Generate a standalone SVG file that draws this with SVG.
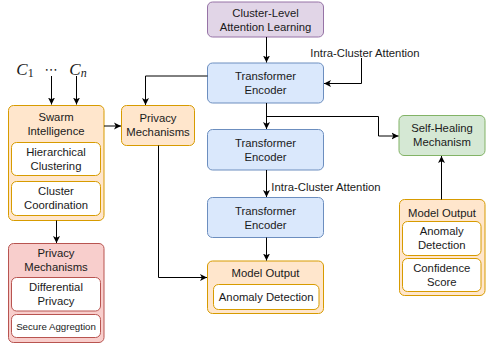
<svg xmlns="http://www.w3.org/2000/svg" width="487" height="347" viewBox="0 0 487 347">
<defs>
<marker id="ah" markerWidth="8" markerHeight="8" refX="7" refY="4" orient="auto" markerUnits="userSpaceOnUse">
<path d="M0,0.5 L7,4 L0,7.5 L1.8,4 Z" fill="#000"/>
</marker>
</defs>
<style>
text{font-family:"Liberation Sans",Arial,sans-serif;font-size:11.3px;fill:#1a1a1a;text-anchor:middle}
.sm{font-size:9.7px}
.math{font-family:"Liberation Serif","Times New Roman",serif;font-style:italic;font-size:17px;text-anchor:middle}
.dots{font-family:"DejaVu Sans",sans-serif;font-size:13px;text-anchor:middle}
.sub{font-family:"Liberation Serif","Times New Roman",serif;font-style:normal;font-size:12px}
.subi{font-family:"Liberation Serif","Times New Roman",serif;font-style:italic;font-size:12px}
.purple{fill:#e1d5e7;stroke:#9673a6}
.blue{fill:#dae8fc;stroke:#6c8ebf}
.green{fill:#d5e8d4;stroke:#82b366}
.orange{fill:#ffe6cc;stroke:#d79b00}
.red{fill:#f8cecc;stroke:#b85450}
.inO{fill:#fff;stroke:#d79b00}
.inR{fill:#fff;stroke:#b85450}
.conn{fill:none;stroke:#000;stroke-width:1}
</style>
<rect width="487" height="347" fill="#fff"/>

<g id="inputs">
<text class="math" x="25" y="75">C<tspan class="sub" dy="2">1</tspan></text>
<text class="dots" x="51" y="74">⋯</text>
<text class="math" x="78" y="75">C<tspan class="subi" dy="2">n</tspan></text>
</g>

<g id="cluster-level">
<rect class="purple" x="207.5" y="2" width="116" height="35" rx="5"/>
<text x="265.5" y="17">Cluster-Level</text>
<text x="265.5" y="31">Attention Learning</text>
</g>

<g id="te1">
<rect class="blue" x="207.5" y="63" width="116" height="40" rx="5"/>
<text x="265.5" y="80">Transformer</text>
<text x="265.5" y="94">Encoder</text>
</g>

<g id="te2">
<rect class="blue" x="207.5" y="129.5" width="116" height="40.5" rx="5"/>
<text x="265.5" y="146.5">Transformer</text>
<text x="265.5" y="160.5">Encoder</text>
</g>

<g id="te3">
<rect class="blue" x="207.5" y="197.5" width="116" height="40" rx="5"/>
<text x="265.5" y="214.5">Transformer</text>
<text x="265.5" y="228.5">Encoder</text>
</g>

<g id="model-output-center">
<rect class="orange" x="207.5" y="261" width="116" height="52.5" rx="5"/>
<text x="265.5" y="277">Model Output</text>
<rect class="inO" x="213.5" y="284.5" width="105.5" height="25" rx="5"/>
<text x="266.25" y="301">Anomaly Detection</text>
</g>

<g id="self-healing">
<rect class="green" x="399" y="115.5" width="86" height="40" rx="5"/>
<text x="442" y="132">Self-Healing</text>
<text x="442" y="146">Mechanism</text>
</g>

<g id="model-output-right">
<rect class="orange" x="399.5" y="199.5" width="85.5" height="96" rx="5"/>
<text x="442" y="216.5">Model Output</text>
<rect class="inO" x="402.5" y="221.5" width="78.5" height="34" rx="5"/>
<text x="441.75" y="235">Anomaly</text>
<text x="441.75" y="249">Detection</text>
<rect class="inO" x="402.5" y="258.5" width="78.5" height="33" rx="5"/>
<text x="441.75" y="271.5">Confidence</text>
<text x="441.75" y="285.5">Score</text>
</g>

<g id="swarm">
<rect class="orange" x="8.5" y="105.5" width="95.5" height="115" rx="5"/>
<text x="56" y="121">Swarm</text>
<text x="56" y="135">Intelligence</text>
<rect class="inO" x="11.5" y="142.5" width="89" height="33" rx="5"/>
<text x="56" y="156">Hierarchical</text>
<text x="56" y="170">Clustering</text>
<rect class="inO" x="11.5" y="181.5" width="89" height="34" rx="5"/>
<text x="56" y="195">Cluster</text>
<text x="56" y="209">Coordination</text>
</g>

<g id="privacy-top">
<rect class="orange" x="121.5" y="105.5" width="73" height="40" rx="5"/>
<text x="158" y="122">Privacy</text>
<text x="158" y="136">Mechanisms</text>
</g>

<g id="privacy-bottom">
<rect class="red" x="8.5" y="243.5" width="95.5" height="99" rx="5"/>
<text x="56" y="257">Privacy</text>
<text x="56" y="271">Mechanisms</text>
<rect class="inR" x="11.5" y="277.5" width="89" height="33.5" rx="5"/>
<text x="56" y="291">Differential</text>
<text x="56" y="305">Privacy</text>
<rect class="inR" x="11.5" y="314.5" width="89" height="23" rx="5"/>
<text class="sm" x="56" y="329.5">Secure Aggregtion</text>
</g>

<g id="connectors">
<path class="conn" d="M51.5,76 V104.5" marker-end="url(#ah)"/>
<path class="conn" d="M76.5,76 V104.5" marker-end="url(#ah)"/>
<path class="conn" d="M266.5,37 V62.5" marker-end="url(#ah)"/>
<path class="conn" d="M361.5,58 V83.5 H324" marker-end="url(#ah)"/>
<path class="conn" d="M266.5,103 V129" marker-end="url(#ah)"/>
<path class="conn" d="M266.5,116.5 H378.5 V136 H398.5" marker-end="url(#ah)"/>
<path class="conn" d="M266.5,170 V197" marker-end="url(#ah)"/>
<path class="conn" d="M266.5,237.5 V260.5" marker-end="url(#ah)"/>
<path class="conn" d="M441.5,199.5 V156" marker-end="url(#ah)"/>
<path class="conn" d="M207.5,76 H145.5 V105" marker-end="url(#ah)"/>
<path class="conn" d="M104,126 H121" marker-end="url(#ah)"/>
<path class="conn" d="M158.5,145.5 V277.5 H207" marker-end="url(#ah)"/>
<path class="conn" d="M56.5,220.5 V243" marker-end="url(#ah)"/>
<text x="365" y="56.5">Intra-Cluster Attention</text>
<text x="326" y="190.5">Intra-Cluster Attention</text>
</g>
</svg>
